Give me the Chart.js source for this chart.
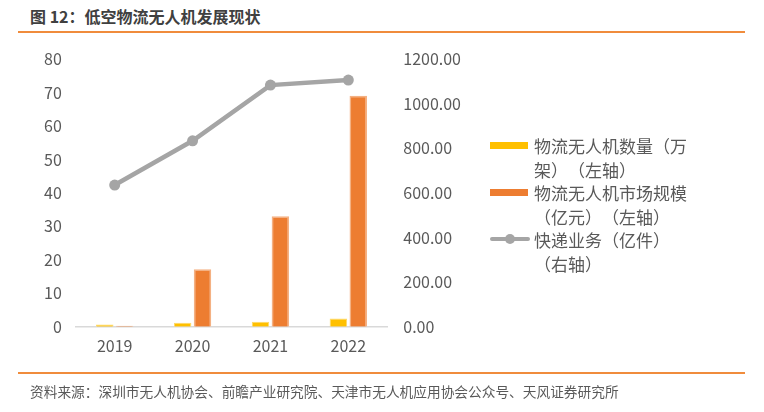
<!DOCTYPE html>
<html><head><meta charset="utf-8">
<script src="https://cdn.jsdelivr.net/npm/chart.js@4"></script>
<style>
html,body{margin:0;padding:0;background:#fff;}
body{width:764px;height:412px;position:relative;overflow:hidden;font-family:"Noto Sans CJK SC","Noto Sans",sans-serif;text-spacing-trim:space-all;font-feature-settings:"palt" 0;}
#title{position:absolute;left:30px;top:4px;font-size:16px;font-weight:bold;color:#404040;white-space:nowrap;}
.rule{position:absolute;left:18px;width:727px;height:2px;background:#F08C3C;}
#src{position:absolute;left:30px;top:381px;font-size:13.7px;color:#595959;white-space:nowrap;}
#wrap{position:absolute;left:0;top:0;width:764px;height:412px;}
#legend{position:absolute;left:490px;top:134px;}
.li{position:relative;padding-left:44px;width:162px;font-size:17px;line-height:23.5px;color:#595959;margin-bottom:0px;}
.sw{position:absolute;left:0;top:8px;width:38px;height:7px;}
.ln{position:absolute;left:0;top:9px;width:40px;height:4px;border-radius:2px;}
.dot{position:absolute;left:15px;top:6px;width:10px;height:10px;border-radius:50%;}
</style></head>
<body>
<div id="title">图 12：低空物流无人机发展现状</div>
<div class="rule" style="top:31px"></div>
<div id="wrap"><canvas id="c" width="764" height="412"></canvas></div>
<div id="legend"></div>
<div class="rule" style="top:372px"></div>
<div id="src">资料来源：深圳市无人机协会、前瞻产业研究院、天津市无人机应用协会公众号、天风证券研究所</div>
<script>
const categories = ["2019","2020","2021","2022"];
const droneCount = [0.7, 1.2, 1.5, 2.5];          // 万架 (left axis)
const marketSize = [0.3, 17.2, 33.0, 69.0];       // 亿元 (left axis)
const expressVolume = [635.2, 833.6, 1083.0, 1105.8]; // 亿件 (right axis)
const seriesNames = ["物流无人机数量（万架）（左轴）","物流无人机市场规模（亿元）（左轴）","快递业务（亿件）（右轴）"];
const leftTicks = [0,10,20,30,40,50,60,70,80];
const rightTicks = [0,200,400,600,800,1000,1200];

const colors = ["#FFC000","#ED7D31","#A5A5A5"];
const tickFont = {family:"'Noto Sans CJK SC','Noto Sans',sans-serif", size:16};
const tickColor = "#595959";

new Chart(document.getElementById('c'), {
  data: {
    labels: categories,
    datasets: [
      {type:'line', label:seriesNames[2], data:expressVolume, yAxisID:'y1', borderColor:colors[2], backgroundColor:colors[2], borderWidth:4.5, pointRadius:5.5, pointHoverRadius:5.5, pointBackgroundColor:colors[2], pointBorderWidth:0, tension:0, order:0},
      {type:'bar', label:seriesNames[0], data:droneCount, yAxisID:'y', backgroundColor:colors[0], borderColor:"#FFD966", borderWidth:{top:1,left:1,right:1,bottom:0}, categoryPercentage:0.51, barPercentage:0.88, order:1},
      {type:'bar', label:seriesNames[1], data:marketSize, yAxisID:'y', backgroundColor:colors[1], borderColor:"#F4B183", borderWidth:{top:1.5,left:1.5,right:1.5,bottom:0}, categoryPercentage:0.51, barPercentage:0.88, order:1}
    ]
  },
  options: {
    responsive:false, animation:false, devicePixelRatio:1,
    layout:{padding:{left:30, right:287, top:59, bottom:46}},
    plugins:{legend:{display:false}, tooltip:{enabled:false}},
    scales:{
      x:{grid:{display:false, drawTicks:false}, border:{display:true,color:"#D9D9D9",width:1.5},
         ticks:{font:tickFont,color:tickColor,padding:10}},
      y:{position:'left', min:0, max:80, afterBuildTicks:s=>{s.ticks=leftTicks.map(v=>({value:v}));},
         grid:{display:false,drawTicks:false}, border:{display:false},
         ticks:{font:tickFont,color:tickColor,padding:14}},
      y1:{position:'right', min:0, max:1200, afterBuildTicks:s=>{s.ticks=rightTicks.map(v=>({value:v}));},
         grid:{display:false,drawTicks:false}, border:{display:false},
         ticks:{font:tickFont,color:tickColor,padding:16, callback:v=>Number(v).toFixed(2)}}
    }
  }
});

// HTML legend built from series names/colors
const lg = document.getElementById('legend');
[0,1,2].forEach(i=>{
  const d = document.createElement('div'); d.className='li';
  if(i<2){
    const s=document.createElement('div'); s.className='sw'; s.style.background=colors[i]; d.appendChild(s);
  } else {
    const l=document.createElement('div'); l.className='ln'; l.style.background=colors[2]; d.appendChild(l);
    const p=document.createElement('div'); p.className='dot'; p.style.background=colors[2]; d.appendChild(p);
  }
  const t=document.createElement('div'); t.textContent=seriesNames[i]; d.appendChild(t);
  lg.appendChild(d);
});
</script>
</body></html>
